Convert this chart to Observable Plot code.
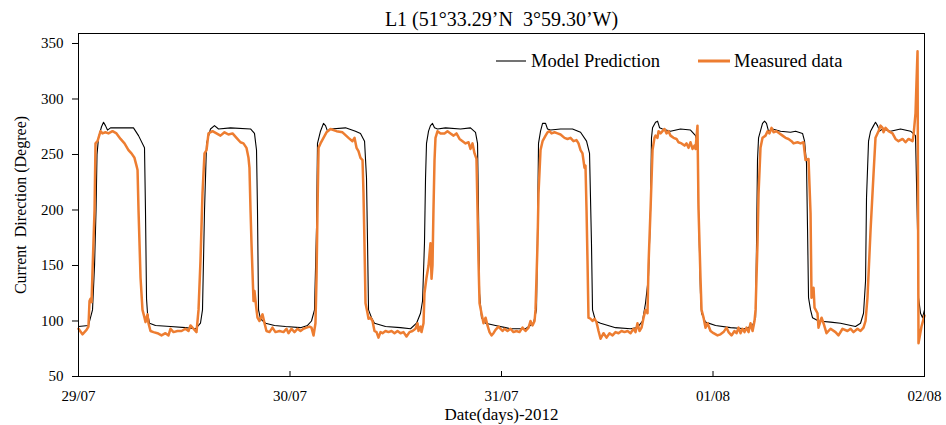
<!DOCTYPE html>
<html>
<head>
<meta charset="utf-8">
<script src="https://cdn.jsdelivr.net/npm/d3@7"></script>
<script src="https://cdn.jsdelivr.net/npm/@observablehq/plot@0.6"></script>
<style>
  html, body { margin: 0; padding: 0; background: #fff; }
  #wrap { position: relative; width: 946px; height: 425px; font-family: "Liberation Serif", serif; }
  #legend { position: absolute; left: 0; top: 0; width: 946px; height: 80px; pointer-events: none; }
</style>
</head>
<body>
<div id="wrap"></div>
<script>
const titleText = "L1 (51°33.29’N\u00a0 3°59.30’W)";
const yLabel = "Current\u00a0 Direction (Degree)";
const xLabel = "Date(days)-2012";
const seriesNames = ["Model Prediction", "Measured data"];
const seriesColors = ["#000000", "#ED7D31"];

const dayTicks = [0, 24, 48, 72, 96];
const dayLabels = ["29/07", "30/07", "31/07", "01/08", "02/08"];
const degTicks = [50, 100, 150, 200, 250, 300, 350];

// hours since 29/07 00:00
const modelHours = [0,1.13,1.59,1.82,1.99,2.10,2.27,2.61,2.84,3.06,3.29,3.63,4.77,6.24,6.81,7.49,7.60,7.72,7.83,8.06,8.74,10.44,12.14,13.28,13.84,14.07,14.30,14.53,14.98,15.43,15.89,17.25,19.52,19.97,20.20,20.31,20.43,20.65,21.22,22.24,23.49,25.19,25.99,26.44,26.78,27.01,27.12,27.46,27.80,28.03,28.26,28.60,30.30,31.43,32.00,32.46,32.68,32.80,32.91,33.25,33.59,34.84,36.54,37.68,38.36,38.81,39.04,39.26,39.38,39.49,39.72,39.94,40.17,40.40,40.74,41.65,43.35,44.48,45.05,45.28,45.39,45.51,45.73,46.19,47.32,48.46,49.02,50.73,51.63,51.97,52.09,52.20,52.43,52.66,53.00,53.22,53.56,54.70,56.06,56.97,57.65,57.99,58.21,58.33,58.67,59.24,60.94,62.64,63.43,64.00,64.34,64.68,64.91,65.02,65.14,65.48,65.71,65.94,66.27,67.18,68.31,69.45,70.02,70.24,70.36,70.58,70.70,71.15,72.29,73.99,75.69,76.49,76.83,76.94,77.05,77.17,77.62,77.85,78.07,78.30,78.76,79.66,80.80,81.37,82.16,82.39,82.61,82.73,82.84,83.07,83.29,83.98,85.34,86.47,88.17,88.74,89.08,89.31,89.42,89.65,89.88,90.22,90.44,90.67,90.90,91.24,92.15,93.28,94.42,94.98,95.21,95.32,95.55,95.78,96.00];
const modelDeg = [95,96,110,150,200,250,265,275,279,276,272,274,274,274,267,256,200,120,107,98,96,95,94,93,98,110,200,260,273,276,273,274,273,269,254,200,110,102,98,96,95,94,96,100,110,184,260,271,278,276,271,273,274,271,269,262,229,170,110,103,98,95,94,93,98,107,118,170,229,260,271,276,278,274,273,274,273,274,270,260,200,125,103,98,96,94,93,93,98,110,184,260,271,278,278,273,272,273,273,270,262,251,170,110,100,98,94,93,94,100,116,140,200,265,274,279,280,274,273,271,273,272,267,260,200,125,107,99,96,94,93,96,103,170,245,265,278,280,278,271,273,271,270,271,269,262,242,182,121,110,103,100,99,98,95,98,107,136,211,262,271,276,279,276,271,273,271,273,271,267,182,121,107,103,110];

const measHours = [0,0.45,0.91,1.13,1.25,1.36,1.48,1.59,1.82,1.93,2.16,2.50,2.72,3.06,3.40,3.86,4.31,4.77,5.22,5.67,6.01,6.35,6.58,6.70,6.81,7.04,7.26,7.49,7.60,7.83,7.94,8.17,8.51,8.96,9.42,9.87,10.21,10.44,10.78,11.23,11.69,12.14,12.48,12.71,13.05,13.39,13.62,13.84,14.07,14.30,14.53,14.75,15.21,15.66,16.11,16.57,17.02,17.48,17.93,18.38,18.72,19.06,19.29,19.40,19.52,19.63,19.86,19.97,20.20,20.31,20.54,20.88,21.11,21.33,21.67,22.01,22.35,22.81,23.26,23.60,23.83,24.17,24.51,24.85,25.19,25.53,25.87,26.21,26.44,26.67,26.89,27.01,27.12,27.24,27.46,27.80,28.14,28.60,29.28,29.96,30.64,31.09,31.32,31.55,31.77,32.00,32.23,32.34,32.45,32.57,32.80,32.91,33.14,33.36,33.59,33.82,34.04,34.27,34.50,34.84,35.18,35.52,35.86,36.20,36.54,36.88,37.22,37.56,37.90,38.24,38.47,38.58,38.81,38.92,39.15,39.26,39.49,39.72,39.94,40.06,40.17,40.28,40.40,40.51,40.74,41.08,41.53,41.87,42.21,42.56,42.89,43.24,43.58,43.92,44.26,44.48,44.71,44.94,45.16,45.28,45.39,45.51,45.73,45.96,46.19,46.41,46.64,46.87,47.09,47.32,47.66,48.12,48.34,48.68,49.02,49.36,49.70,50.04,50.38,50.73,51.07,51.29,51.52,51.75,51.86,52.09,52.20,52.43,52.66,53.00,53.22,53.45,53.68,54.02,54.36,54.70,55.15,55.49,55.83,56.17,56.51,56.74,56.97,57.19,57.42,57.53,57.65,57.76,57.87,58.10,58.33,58.56,58.78,59.01,59.24,59.58,59.92,60.26,60.60,60.94,61.28,61.62,61.96,62.30,62.64,62.98,63.21,63.43,63.66,63.89,64.12,64.34,64.57,64.68,64.91,65.14,65.36,65.48,65.70,65.82,66.05,66.27,66.50,66.73,66.95,67.18,67.52,67.86,68.09,68.43,68.77,69.00,69.22,69.45,69.68,69.90,70.02,70.24,70.36,70.58,70.70,70.93,71.15,71.38,71.72,72.06,72.51,72.85,73.19,73.54,73.76,74.10,74.44,74.67,74.90,75.12,75.35,75.58,75.80,76.03,76.26,76.49,76.71,76.83,77.05,77.17,77.39,77.62,77.96,78.19,78.41,78.64,78.87,79.21,79.55,79.89,80.23,80.57,80.91,81.14,81.59,81.93,82.27,82.50,82.84,83.07,83.18,83.41,83.52,83.86,83.97,84.32,84.54,84.88,85.34,85.90,86.24,86.70,87.26,87.61,87.95,88.40,88.74,89.08,89.31,89.53,89.88,90.22,90.44,90.78,91.01,91.24,91.35,91.58,91.92,92.37,92.71,93.05,93.51,93.85,94.19,94.64,94.75,94.98,95.10,95.21,95.32,95.66,96.00];
const measDeg = [93,88,92,95,118,120,117,145,200,260,262,271,269,270,269,271,269,264,260,254,251,247,240,236,200,139,110,103,99,106,98,91,90,89,87,89,87,93,90,91,91,93,91,96,93,90,110,154,215,251,254,269,271,269,267,270,268,269,265,261,260,256,247,238,200,170,118,127,110,103,100,106,98,91,90,94,90,91,90,93,89,93,90,93,91,93,94,95,94,87,98,139,200,256,260,265,270,273,271,270,265,262,265,256,253,247,245,215,170,116,107,102,103,100,91,90,85,90,89,91,90,91,89,91,89,90,86,90,91,93,98,91,95,90,98,125,139,150,170,138,150,200,245,265,271,269,269,271,269,267,269,264,262,260,261,255,260,251,246,200,154,116,107,98,103,96,90,87,89,92,95,91,93,91,93,90,91,90,94,91,94,100,96,100,110,170,215,254,262,267,270,271,269,270,269,268,265,264,265,262,263,260,254,251,238,240,200,154,103,102,100,102,99,91,84,89,85,89,87,90,89,91,90,91,89,93,90,98,91,94,103,110,107,150,200,254,265,267,265,271,269,271,273,269,271,267,265,264,261,260,258,260,256,261,255,258,255,276,200,139,110,103,94,98,91,89,87,88,90,94,90,87,91,89,94,89,93,90,94,90,98,91,100,110,170,215,256,265,267,271,269,274,270,271,269,267,265,264,262,260,261,260,261,245,246,197,121,130,112,107,94,103,98,89,93,90,87,93,91,93,90,93,91,94,100,121,182,233,265,271,276,274,270,274,271,269,264,262,264,261,264,262,267,287,317,343,80,95,105];

const model = modelHours.map((h, i) => ({h, v: modelDeg[i]}));
const meas = measHours.map((h, i) => ({h, v: measDeg[i]}));

const chart = Plot.plot({
  width: 946,
  height: 425,
  marginLeft: 78,
  marginRight: 22,
  marginTop: 33,
  marginBottom: 49,
  style: {fontFamily: "Liberation Serif, serif", fontSize: "15px", color: "#000", background: "#fff"},
  x: {domain: [0, 96]},
  y: {domain: [50, 359]},
  marks: [
    Plot.axisY({ticks: degTicks, tickSize: 6, tickPadding: 9, label: null, fontSize: 15}),
    Plot.axisX({ticks: dayTicks, tickSize: 0, tickPadding: 14, label: null, fontSize: 15,
                tickFormat: d => dayLabels[dayTicks.indexOf(d)]}),
    Plot.tickX(dayTicks, {x: d => d, insetTop: 338, stroke: "#000"}),
    Plot.line(model, {x: "h", y: "v", stroke: seriesColors[0], strokeWidth: 1.1}),
    Plot.line(meas, {x: "h", y: "v", stroke: seriesColors[1], strokeWidth: 2.5, strokeLinejoin: "round"}),
    Plot.frame({stroke: "#000", strokeWidth: 1}),
    Plot.text([titleText], {frameAnchor: "top", lineAnchor: "middle", dy: -14, fontSize: 20}),
    Plot.text([yLabel], {frameAnchor: "left", textAnchor: "middle", lineAnchor: "middle", rotate: -90, dx: -58, fontSize: 16}),
    Plot.text([xLabel], {frameAnchor: "bottom", lineAnchor: "middle", dy: 38, fontSize: 17})
  ]
});

const wrap = document.getElementById("wrap");
wrap.appendChild(chart);

// legend overlay
const legend = d3.select(wrap).append("svg").attr("id", "legend").attr("width", 946).attr("height", 80);
const items = [
  {name: seriesNames[0], color: seriesColors[0], w: 1.1, x0: 496, x1: 526, tx: 531},
  {name: seriesNames[1], color: seriesColors[1], w: 3, x0: 698, x1: 730, tx: 734}
];
for (const it of items) {
  legend.append("line").attr("x1", it.x0).attr("x2", it.x1).attr("y1", 61).attr("y2", 61)
    .attr("stroke", it.color).attr("stroke-width", it.w);
  legend.append("text").attr("x", it.tx).attr("y", 66.5).attr("font-family", "Liberation Serif, serif")
    .attr("font-size", 18.5).attr("fill", "#000").text(it.name);
}
</script>
</body>
</html>
